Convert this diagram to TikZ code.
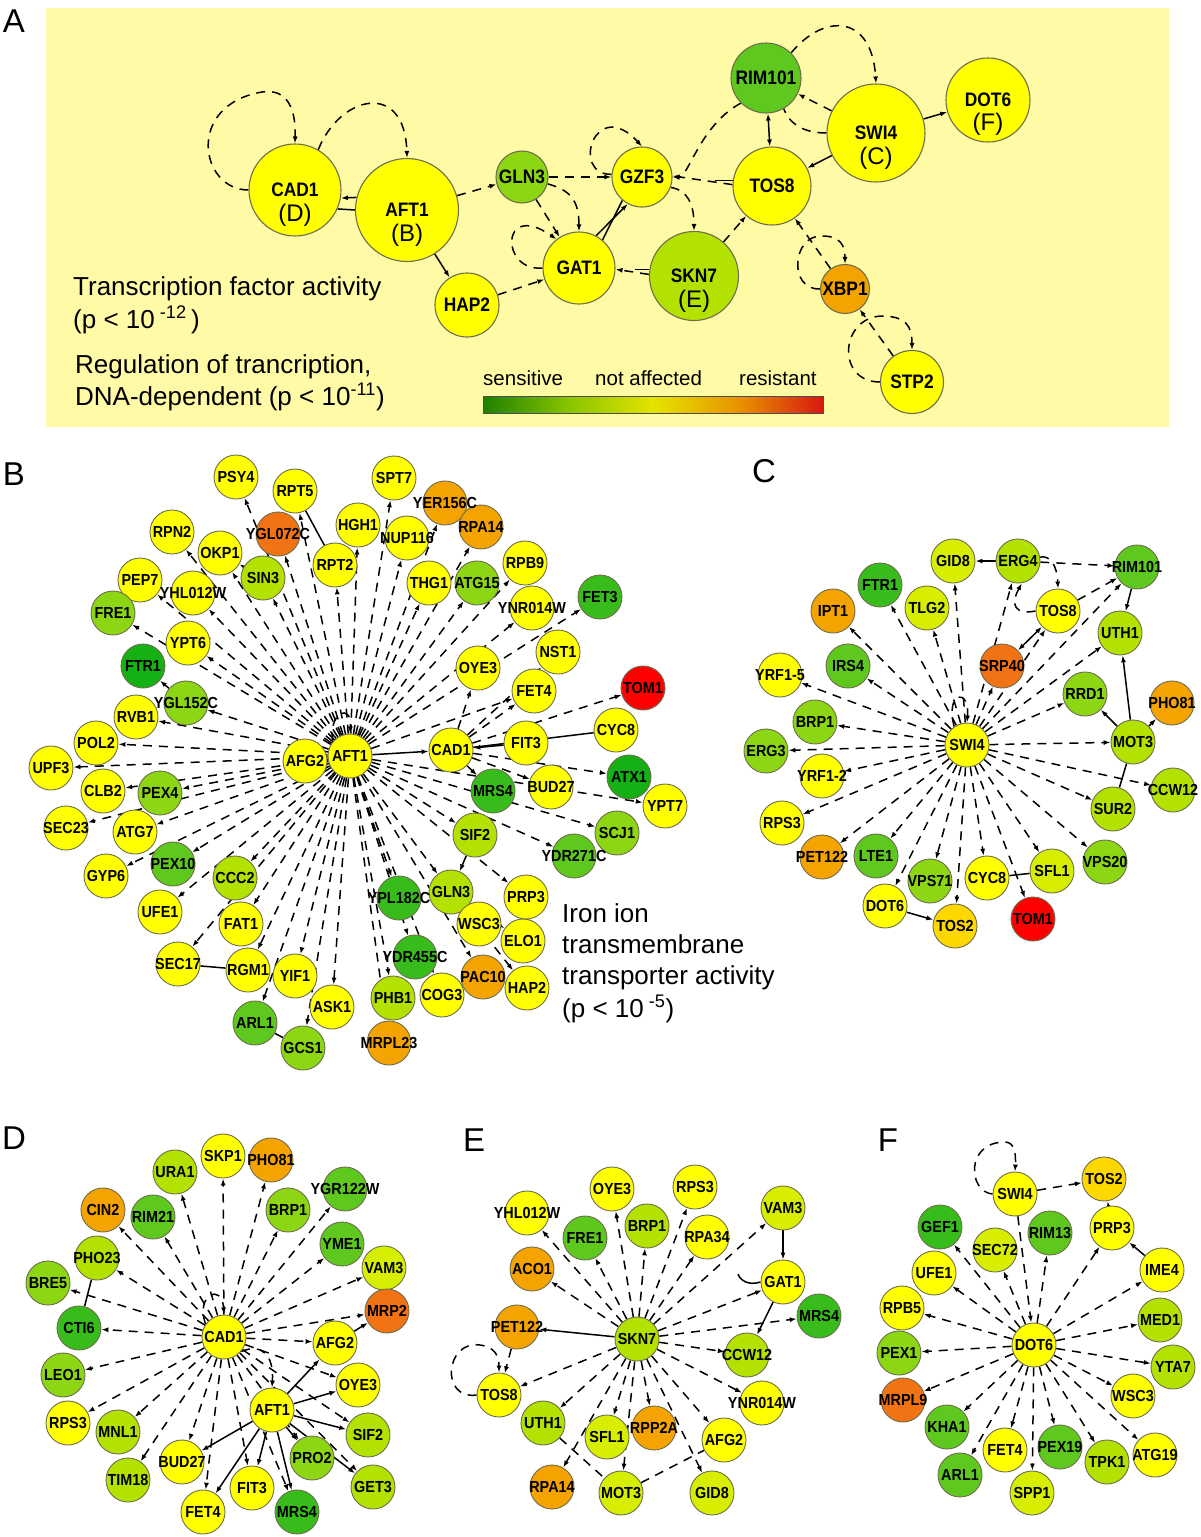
\documentclass[tikz,border=0pt]{standalone}
\usepackage{fontspec}
\setmainfont{Liberation Sans}
\usetikzlibrary{arrows.meta}
\pgfdeclarelayer{back}\pgfdeclarelayer{bg}\pgfdeclarelayer{top}
\pgfsetlayers{back,bg,main,top}
\definecolor{cY}{HTML}{FFFF00}
\definecolor{cYL}{HTML}{D8EE00}
\definecolor{cL}{HTML}{B4E200}
\definecolor{cG}{HTML}{8CD614}
\definecolor{cM}{HTML}{5EC81E}
\definecolor{cD}{HTML}{38BC1C}
\definecolor{cV}{HTML}{14B014}
\definecolor{cGo}{HTML}{FFD700}
\definecolor{cO}{HTML}{F5A300}
\definecolor{cDO}{HTML}{F27314}
\definecolor{cR}{HTML}{FF0000}
\definecolor{nbord}{HTML}{6E6E4E}
\definecolor{abg}{HTML}{FFFAA6}
\definecolor{barG}{HTML}{1E8000}
\definecolor{barLG}{HTML}{88C400}
\definecolor{barY}{HTML}{E4E400}
\definecolor{barO}{HTML}{E89400}
\definecolor{barR}{HTML}{D81810}
\pgfdeclarehorizontalshading{cbar}{100bp}{color(0bp)=(barG); color(25bp)=(barG); color(37.5bp)=(barLG); color(50bp)=(barY); color(62.5bp)=(barO); color(75bp)=(barR); color(100bp)=(barR)}
\tikzset{
 gene/.style={circle,draw=nbord,line width=0.9pt,minimum size=44pt,inner sep=0pt},
 lbl/.style={font=\bfseries\fontsize{16}{16}\selectfont,inner sep=0pt},
 ed/.style={draw=black,line width=1.5pt,dash pattern=on 9pt off 7pt,-{Latex[length=7pt,width=5pt]}},
 sed/.style={draw=black,line width=1.5pt,-{Latex[length=7pt,width=5pt]}},
 ln/.style={draw=black,line width=1.5pt},
 big/.style={circle,draw=nbord,line width=1.1pt,inner sep=0pt},
 blbl/.style={font=\bfseries\fontsize{19.5}{20}\selectfont,inner sep=0pt},
 sublbl/.style={font=\fontsize{24}{26}\selectfont,inner sep=0pt},
 txt/.style={font=\fontsize{26}{30}\selectfont,inner sep=0pt,anchor=base west},
 bartxt/.style={font=\fontsize{20.5}{24}\selectfont,inner sep=0pt,anchor=base west},
 plbl/.style={font=\fontsize{33}{33}\selectfont,inner sep=0pt},
}
\newcommand\gn[5]{\node[gene,fill=#4] (#1) at (#2,#3) {};
 \begin{pgfonlayer}{top}\node[lbl] (#1t) at (#1) {\scalebox{0.9}[1]{#5}};\end{pgfonlayer}}
\newcommand\bign[6]{\node[big,fill=#5,minimum size=#4pt] (#1) at (#2,#3) {};
 \begin{pgfonlayer}{top}\node[blbl] (#1t) at (#1) {\scalebox{0.89}[1]{#6}};\end{pgfonlayer}}
\begin{document}
\begin{tikzpicture}[x=1pt,y=-1pt]
\useasboundingbox (0,0) rectangle (1200,1537);
\begin{pgfonlayer}{back}
\fill[white] (0,0) rectangle (1200,1537);
\fill[abg] (46,8) rectangle (1169,427);
\end{pgfonlayer}
% panel labels
\node[plbl] (LA) at (14,21) {A};
\node[plbl] (LB) at (14,474) {B};
\node[plbl] (LC) at (764,471) {C};
\node[plbl] (LD) at (14,1138) {D};
\node[plbl] (LE) at (474,1140) {E};
\node[plbl] (LF) at (888,1140) {F};
% ================= PANEL A =================
\bign{aCAD1}{295}{190}{92}{cY}{CAD1}
\bign{aAFT1}{407}{210}{103}{cY}{AFT1}
\bign{aGLN3}{522}{177}{52}{cG}{GLN3}
\bign{aGAT1}{579}{268}{72}{cY}{GAT1}
\bign{aHAP2}{467}{305}{64}{cY}{HAP2}
\bign{aGZF3}{642}{177}{60}{cY}{GZF3}
\bign{aTOS8}{772}{186}{78}{cY}{TOS8}
\bign{aSKN7}{694}{276}{89}{cL}{SKN7}
\bign{aRIM101}{766}{78}{70}{cM}{RIM101}
\bign{aSWI4}{876}{133}{98}{cY}{SWI4}
\bign{aDOT6}{988}{100}{84}{cY}{DOT6}
\bign{aXBP1}{845}{289}{49}{cO}{XBP1}
\bign{aSTP2}{912}{382}{63}{cY}{STP2}
\node[sublbl] (sD) at (295,215) {(D)};
\node[sublbl] (sB) at (407,235) {(B)};
\node[sublbl] (sE) at (694,301) {(E)};
\node[sublbl] (sC) at (876,158) {(C)};
\node[sublbl] (sF) at (988,124) {(F)};
\begin{pgfonlayer}{bg}
\draw[ed] (aCAD1.west) .. controls (200,190) and (185,105) .. (262,92) .. controls (288,88) and (296,110) .. (aCAD1.north);
\draw[ed] (aCAD1.60) .. controls (340,95) and (405,80) .. (aAFT1.north);
\draw[sed] (aAFT1.166) -- (aCAD1.-10);
\draw[ln] (aCAD1.-24) -- (aAFT1.180);
\draw[ed] (aAFT1) -- (aGLN3);
\draw[sed] (aAFT1) -- (aHAP2);
\draw[ed] (aHAP2) -- (aGAT1);
\draw[ed] (aGLN3) -- (aGZF3);
\draw[ed] (aGLN3) -- (aGAT1);
\draw[ed] (aGLN3.-15) .. controls (570,190) and (579,200) .. (aGAT1.north);
\draw[ed] (aGAT1.west) .. controls (500,272) and (500,200) .. (aGAT1.128);
\draw[ed] (aGZF3.175) .. controls (570,175) and (595,95) .. (aGZF3.north);
\draw[ed] (aRIM101.225) .. controls (700,125) and (688,178) .. (aGZF3.east);
\draw[ed] (aTOS8.178) -- (aGZF3.2);
\draw[ln] (aTOS8.172) -- ++(-18,0);
\draw[sed,{Latex[length=7pt,width=5pt]}-{Latex[length=7pt,width=5pt]}] (aRIM101) -- (aTOS8);
\draw[ed] (aSWI4) -- (aRIM101);
\draw[ed,-] (aSWI4.west) .. controls (805,133) and (790,125) .. (aRIM101.-60);
\draw[ed] (aRIM101.45) .. controls (825,12) and (872,15) .. (aSWI4.north);
\draw[sed] (aSWI4) -- (aTOS8);
\draw[sed] (aSWI4) -- (aDOT6);
\draw[ed] (aSKN7) -- (aTOS8);
\draw[ed] (aSKN7.178) -- (aGAT1.-2);
\draw[ln] (aSKN7.172) -- ++(-14,0);
\draw[ed] (aGZF3.-20) .. controls (688,190) and (694,205) .. (aSKN7.north);
\draw[ln] (aGAT1.50) -- (aGZF3.230);
\draw[sed] (aGAT1.62) -- (aGZF3.242);
\draw[ed] (aXBP1) -- (aTOS8);
\draw[ed] (aXBP1.west) .. controls (788,290) and (792,235) .. (822,236) .. controls (840,236) and (845,245) .. (aXBP1.north);
\draw[ed] (aSTP2) -- (aXBP1);
\draw[ed] (aSTP2.west) .. controls (835,382) and (840,315) .. (884,316) .. controls (905,317) and (912,325) .. (aSTP2.north);
\end{pgfonlayer}
\node[txt] (t1) at (73,295) {Transcription factor activity};
\node[txt] (t2) at (73,328) {(p < 10\textsuperscript{ -12}\,)};
\node[txt] (t3) at (75,373) {Regulation of trancription,};
\node[txt] (t4) at (75,405) {DNA-dependent (p < 10\textsuperscript{-11})};
\shade[shading=cbar,shading angle=0] (483,396) rectangle (823,413);
\draw[line width=0.8pt,black!70] (483,396) rectangle (823,413);
\node[bartxt] (bt1) at (483,385) {sensitive};
\node[bartxt] (bt2) at (595,385) {not affected};
\node[bartxt] (bt3) at (739,385) {resistant};
% ================= PANEL B =================
\gn{bPSY4}{236}{477}{cY}{PSY4}
\gn{bRPT5}{295}{491}{cY}{RPT5}
\gn{bYGL072C}{278}{534}{cDO}{YGL072C}
\gn{bHGH1}{358}{525}{cY}{HGH1}
\gn{bRPN2}{172}{532}{cY}{RPN2}
\gn{bOKP1}{220}{553}{cY}{OKP1}
\gn{bRPT2}{335}{565}{cY}{RPT2}
\gn{bSIN3}{263}{578}{cL}{SIN3}
\gn{bPEP7}{140}{580}{cY}{PEP7}
\gn{bYHL012W}{193}{593}{cY}{YHL012W}
\gn{bFRE1}{113}{613}{cG}{FRE1}
\gn{bYPT6}{188}{643}{cY}{YPT6}
\gn{bFTR1}{143}{666}{cV}{FTR1}
\gn{bYGL152C}{186}{703}{cG}{YGL152C}
\gn{bRVB1}{136}{717}{cY}{RVB1}
\gn{bPOL2}{96}{743}{cY}{POL2}
\gn{bUPF3}{51}{768}{cY}{UPF3}
\gn{bCLB2}{103}{791}{cY}{CLB2}
\gn{bPEX4}{160}{793}{cG}{PEX4}
\gn{bSEC23}{66}{828}{cY}{SEC23}
\gn{bATG7}{135}{832}{cY}{ATG7}
\gn{bGYP6}{106}{876}{cY}{GYP6}
\gn{bPEX10}{173}{864}{cM}{PEX10}
\gn{bCCC2}{235}{878}{cL}{CCC2}
\gn{bUFE1}{160}{912}{cY}{UFE1}
\gn{bFAT1}{241}{924}{cY}{FAT1}
\gn{bSEC17}{178}{964}{cY}{SEC17}
\gn{bRGM1}{248}{970}{cY}{RGM1}
\gn{bYIF1}{295}{976}{cY}{YIF1}
\gn{bASK1}{332}{1007}{cY}{ASK1}
\gn{bARL1}{255}{1023}{cM}{ARL1}
\gn{bGCS1}{303}{1048}{cG}{GCS1}
\gn{bSPT7}{394}{478}{cY}{SPT7}
\gn{bYER156C}{445}{503}{cO}{YER156C}
\gn{bNUP116}{407}{538}{cY}{NUP116}
\gn{bRPA14}{481}{527}{cO}{RPA14}
\gn{bTHG1}{429}{583}{cY}{THG1}
\gn{bATG15}{477}{583}{cG}{ATG15}
\gn{bRPB9}{525}{563}{cY}{RPB9}
\gn{bYNR014W}{532}{608}{cY}{YNR014W}
\gn{bFET3}{600}{597}{cD}{FET3}
\gn{bNST1}{558}{652}{cY}{NST1}
\gn{bOYE3}{478}{668}{cY}{OYE3}
\gn{bFET4}{534}{691}{cY}{FET4}
\gn{bTOM1}{643}{688}{cR}{TOM1}
\gn{bCYC8}{616}{730}{cY}{CYC8}
\gn{bFIT3}{526}{743}{cY}{FIT3}
\gn{bCAD1}{451}{750}{cY}{CAD1}
\gn{bATX1}{629}{777}{cV}{ATX1}
\gn{bBUD27}{551}{787}{cY}{BUD27}
\gn{bMRS4}{493}{791}{cD}{MRS4}
\gn{bYPT7}{665}{806}{cY}{YPT7}
\gn{bSIF2}{475}{835}{cL}{SIF2}
\gn{bSCJ1}{617}{833}{cG}{SCJ1}
\gn{bYDR271C}{574}{856}{cM}{YDR271C}
\gn{bGLN3}{451}{892}{cL}{GLN3}
\gn{bYPL182C}{399}{898}{cD}{YPL182C}
\gn{bPRP3}{526}{897}{cY}{PRP3}
\gn{bWSC3}{479}{924}{cY}{WSC3}
\gn{bELO1}{523}{941}{cY}{ELO1}
\gn{bYDR455C}{415}{957}{cD}{YDR455C}
\gn{bPAC10}{483}{977}{cO}{PAC10}
\gn{bHAP2}{527}{988}{cY}{HAP2}
\gn{bCOG3}{442}{995}{cY}{COG3}
\gn{bPHB1}{393}{998}{cL}{PHB1}
\gn{bMRPL23}{389}{1043}{cO}{MRPL23}
\gn{bAFG2}{305}{761}{cY}{AFG2}
\gn{bAFT1}{350}{756}{cY}{AFT1}
\begin{pgfonlayer}{bg}
\foreach \t in {PSY4,RPT5,YGL072C,HGH1,RPN2,OKP1,RPT2,SIN3,PEP7,YHL012W,FRE1,YPT6,YGL152C,RVB1,POL2,UPF3,CLB2,PEX4,SEC23,ATG7,GYP6,PEX10,CCC2,UFE1,FAT1,SEC17,RGM1,YIF1,ASK1,ARL1,GCS1,SPT7,YER156C,NUP116,RPA14,THG1,ATG15,RPB9,YNR014W,FET3,SIF2,YPT7,SCJ1,YDR271C,GLN3,YPL182C,YDR455C,PHB1,MRPL23,COG3,PAC10,PRP3,FET4}
  \draw[ed] (bAFT1) -- (b\t);
\foreach \t in {TOM1,NST1,FET4,OYE3,ATX1,BUD27,MRS4}
  \draw[ed] (bCAD1) -- (b\t);
\foreach \t in {WSC3,ELO1,HAP2}
  \draw[ed] (bGLN3) -- (b\t);
\draw[sed] (bSIF2) -- (bGLN3);
\draw[sed] (bAFT1) -- (bCAD1);
\draw[sed] (bFIT3) -- (bCAD1);
\draw[ln] (bCAD1) -- (bCYC8);
\draw[ln] (bRPT5) -- (bRPT2);
\draw[sed] (bYGL152C) -- (bFTR1);
\draw[sed] (bSIN3) -- (bOKP1);
\draw[ln] (bRGM1) -- (bSEC17);
\draw[ln] (bARL1) -- (bGCS1);
\draw[ed] (bAFT1.140) .. controls (328,712) and (352,702) .. (bAFT1.north);
\end{pgfonlayer}
\node[txt] (ti1) at (562,922) {Iron ion};
\node[txt] (ti2) at (562,953) {transmembrane};
\node[txt] (ti3) at (562,984) {transporter activity};
\node[txt] (ti4) at (562,1017) {(p < 10\textsuperscript{ -5})};
% ================= PANEL C =================
\gn{cGID8}{953}{561}{cYL}{GID8}
\gn{cERG4}{1018}{561}{cL}{ERG4}
\gn{cRIM101}{1137}{567}{cM}{RIM101}
\gn{cFTR1}{880}{585}{cD}{FTR1}
\gn{cTLG2}{927}{608}{cYL}{TLG2}
\gn{cTOS8}{1058}{611}{cY}{TOS8}
\gn{cIPT1}{833}{611}{cO}{IPT1}
\gn{cUTH1}{1120}{633}{cL}{UTH1}
\gn{cIRS4}{848}{666}{cM}{IRS4}
\gn{cSRP40}{1002}{666}{cDO}{SRP40}
\gn{cYRF15}{780}{675}{cY}{YRF1-5}
\gn{cRRD1}{1085}{694}{cG}{RRD1}
\gn{cPHO81}{1172}{703}{cO}{PHO81}
\gn{cBRP1}{815}{722}{cG}{BRP1}
\gn{cMOT3}{1133}{742}{cL}{MOT3}
\gn{cERG3}{766}{751}{cG}{ERG3}
\gn{cYRF12}{822}{776}{cY}{YRF1-2}
\gn{cCCW12}{1173}{790}{cL}{CCW12}
\gn{cSUR2}{1113}{809}{cL}{SUR2}
\gn{cRPS3}{782}{823}{cY}{RPS3}
\gn{cPET122}{822}{857}{cO}{PET122}
\gn{cLTE1}{876}{856}{cM}{LTE1}
\gn{cVPS20}{1105}{862}{cG}{VPS20}
\gn{cSFL1}{1052}{871}{cYL}{SFL1}
\gn{cVPS71}{930}{881}{cG}{VPS71}
\gn{cCYC8}{987}{878}{cY}{CYC8}
\gn{cDOT6}{885}{906}{cY}{DOT6}
\gn{cTOS2}{955}{926}{cGo}{TOS2}
\gn{cTOM1}{1033}{919}{cR}{TOM1}
\gn{cSWI4}{967}{745}{cY}{SWI4}
\begin{pgfonlayer}{bg}
\foreach \t in {GID8,ERG4,RIM101,FTR1,TLG2,TOS8,IPT1,UTH1,IRS4,SRP40,YRF15,RRD1,BRP1,MOT3,ERG3,YRF12,CCW12,SUR2,RPS3,PET122,LTE1,VPS20,SFL1,VPS71,CYC8,DOT6,TOS2,TOM1}
  \draw[ed] (cSWI4) -- (c\t);
\draw[sed] (cERG4) -- (cGID8);
\draw[ed] (cERG4.10) .. controls (1050,555) and (1057,565) .. (cTOS8.north);
\draw[ed] (cERG4) -- (cRIM101);
\draw[ed] (cTOS8) -- (cRIM101);
\draw[ed] (cTOS8.west) .. controls (1015,615) and (1010,605) .. (cERG4.-80);
\draw[sed,{Latex[length=7pt,width=5pt]}-{Latex[length=7pt,width=5pt]}] (cSRP40) -- (cTOS8);
\draw[sed] (cRIM101) -- (cUTH1);
\draw[sed] (cMOT3) -- (cUTH1);
\draw[sed] (cMOT3) -- (cRRD1);
\draw[sed] (cMOT3) -- (cPHO81);
\draw[ln] (cMOT3) -- (cSUR2);
\draw[sed] (cDOT6) -- (cTOS2);
\draw[ln] (cCYC8) -- (cSFL1);
\draw[ed] (cSWI4.125) .. controls (945,690) and (970,688) .. (cSWI4.north);
\end{pgfonlayer}
% ================= PANEL D =================
\gn{dSKP1}{223}{1156}{cY}{SKP1}
\gn{dPHO81}{271}{1160}{cO}{PHO81}
\gn{dURA1}{175}{1172}{cL}{URA1}
\gn{dYGR122W}{345}{1189}{cM}{YGR122W}
\gn{dBRP1}{288}{1210}{cG}{BRP1}
\gn{dCIN2}{103}{1210}{cO}{CIN2}
\gn{dRIM21}{153}{1217}{cM}{RIM21}
\gn{dYME1}{342}{1244}{cM}{YME1}
\gn{dPHO23}{97}{1258}{cL}{PHO23}
\gn{dVAM3}{384}{1268}{cYL}{VAM3}
\gn{dBRE5}{48}{1283}{cG}{BRE5}
\gn{dMRP2}{387}{1311}{cDO}{MRP2}
\gn{dCTI6}{79}{1328}{cD}{CTI6}
\gn{dAFG2}{335}{1343}{cY}{AFG2}
\gn{dLEO1}{63}{1375}{cG}{LEO1}
\gn{dOYE3}{358}{1385}{cY}{OYE3}
\gn{dAFT1}{272}{1410}{cY}{AFT1}
\gn{dRPS3}{68}{1423}{cY}{RPS3}
\gn{dMNL1}{118}{1432}{cL}{MNL1}
\gn{dSIF2}{368}{1435}{cL}{SIF2}
\gn{dPRO2}{312}{1458}{cG}{PRO2}
\gn{dBUD27}{182}{1462}{cY}{BUD27}
\gn{dTIM18}{128}{1480}{cL}{TIM18}
\gn{dGET3}{373}{1487}{cL}{GET3}
\gn{dFIT3}{252}{1488}{cY}{FIT3}
\gn{dFET4}{203}{1512}{cY}{FET4}
\gn{dMRS4}{297}{1512}{cD}{MRS4}
\gn{dCAD1}{224}{1337}{cY}{CAD1}
\begin{pgfonlayer}{bg}
\foreach \t in {SKP1,PHO81,URA1,YGR122W,BRP1,CIN2,RIM21,YME1,PHO23,VAM3,BRE5,MRP2,CTI6,AFG2,LEO1,OYE3,RPS3,MNL1,SIF2,PRO2,BUD27,TIM18,GET3,FIT3,FET4,MRS4}
  \draw[ed] (dCAD1) -- (d\t);
\foreach \t in {AFG2,OYE3,SIF2,GET3,PRO2,MRS4,FIT3,FET4,BUD27}
  \draw[sed] (dAFT1) -- (d\t);
\draw[ed] (dCAD1.-40) .. controls (262,1343) and (274,1355) .. (dAFT1.north);
\draw[ed] (dCAD1.145) .. controls (195,1295) and (222,1282) .. (dCAD1.north);
\draw[ln] (dPHO23) -- (dCTI6);
\draw[sed] (dAFG2) -- (dMRP2);
\end{pgfonlayer}
% ================= PANEL E =================
\gn{eOYE3}{612}{1189}{cY}{OYE3}
\gn{eRPS3}{695}{1187}{cY}{RPS3}
\gn{eVAM3}{783}{1208}{cYL}{VAM3}
\gn{eYHL012W}{527}{1213}{cY}{YHL012W}
\gn{eBRP1}{647}{1226}{cL}{BRP1}
\gn{eFRE1}{585}{1238}{cM}{FRE1}
\gn{eRPA34}{707}{1237}{cY}{RPA34}
\gn{eACO1}{532}{1269}{cO}{ACO1}
\gn{eGAT1}{783}{1282}{cY}{GAT1}
\gn{eMRS4}{819}{1316}{cD}{MRS4}
\gn{ePET122}{517}{1327}{cO}{PET122}
\gn{eCCW12}{747}{1355}{cL}{CCW12}
\gn{eTOS8}{499}{1395}{cY}{TOS8}
\gn{eYNR014W}{762}{1403}{cY}{YNR014W}
\gn{eUTH1}{543}{1423}{cL}{UTH1}
\gn{eSFL1}{607}{1437}{cYL}{SFL1}
\gn{eRPP2A}{654}{1428}{cO}{RPP2A}
\gn{eAFG2}{724}{1440}{cY}{AFG2}
\gn{eRPA14}{552}{1487}{cO}{RPA14}
\gn{eMOT3}{621}{1493}{cYL}{MOT3}
\gn{eGID8}{712}{1493}{cYL}{GID8}
\gn{eSKN7}{637}{1339}{cL}{SKN7}
\begin{pgfonlayer}{bg}
\foreach \t in {OYE3,RPS3,VAM3,YHL012W,BRP1,FRE1,RPA34,ACO1,GAT1,MRS4,CCW12,TOS8,YNR014W,UTH1,SFL1,RPP2A,AFG2,RPA14,MOT3,GID8}
  \draw[ed] (eSKN7) -- (e\t);
\draw[sed] (eSKN7) -- (ePET122);
\draw[sed] (eVAM3) -- (eGAT1);
\draw[sed] (eGAT1) -- (eCCW12);
\draw[ed,-] (eMOT3) -- (eAFG2);
\draw[ed,-] (eUTH1) -- (eMOT3);
\draw[ed] (ePET122) -- (eTOS8);
\draw[ed] (eTOS8.west) .. controls (440,1400) and (445,1340) .. (480,1345) .. controls (495,1347) and (499,1356) .. (eTOS8.north);
\draw[ln] (eGAT1.west) .. controls (748,1286) and (740,1280) .. (738,1274);
\end{pgfonlayer}
% ================= PANEL F =================
\gn{fTOS2}{1104}{1179}{cGo}{TOS2}
\gn{fSWI4}{1015}{1194}{cY}{SWI4}
\gn{fGEF1}{940}{1227}{cD}{GEF1}
\gn{fPRP3}{1112}{1228}{cY}{PRP3}
\gn{fRIM13}{1050}{1233}{cM}{RIM13}
\gn{fSEC72}{995}{1250}{cYL}{SEC72}
\gn{fUFE1}{934}{1273}{cY}{UFE1}
\gn{fIME4}{1162}{1270}{cY}{IME4}
\gn{fRPB5}{902}{1308}{cY}{RPB5}
\gn{fMED1}{1160}{1320}{cL}{MED1}
\gn{fPEX1}{899}{1353}{cG}{PEX1}
\gn{fYTA7}{1173}{1367}{cL}{YTA7}
\gn{fWSC3}{1133}{1396}{cY}{WSC3}
\gn{fMRPL9}{903}{1400}{cDO}{MRPL9}
\gn{fKHA1}{947}{1427}{cM}{KHA1}
\gn{fATG19}{1155}{1455}{cY}{ATG19}
\gn{fFET4}{1005}{1450}{cY}{FET4}
\gn{fPEX19}{1060}{1447}{cM}{PEX19}
\gn{fTPK1}{1107}{1462}{cL}{TPK1}
\gn{fARL1}{960}{1475}{cM}{ARL1}
\gn{fSPP1}{1032}{1493}{cYL}{SPP1}
\gn{fDOT6}{1034}{1345}{cY}{DOT6}
\begin{pgfonlayer}{bg}
\foreach \t in {GEF1,RIM13,SEC72,UFE1,IME4,RPB5,MED1,PEX1,YTA7,WSC3,MRPL9,KHA1,ATG19,FET4,PEX19,TPK1,ARL1,SPP1,PRP3}
  \draw[ed] (fDOT6) -- (f\t);
\draw[ed] (fSWI4) -- (fDOT6);
\draw[ed] (fSWI4) -- (fTOS2);
\draw[sed] (fPRP3) -- (fTOS2);
\draw[sed] (fIME4) -- (fPRP3);
\draw[ed] (fSWI4.west) .. controls (968,1192) and (965,1142) .. (1005,1142) .. controls (1015,1142) and (1016,1155) .. (fSWI4.north);
\end{pgfonlayer}
\end{tikzpicture}
\end{document}
